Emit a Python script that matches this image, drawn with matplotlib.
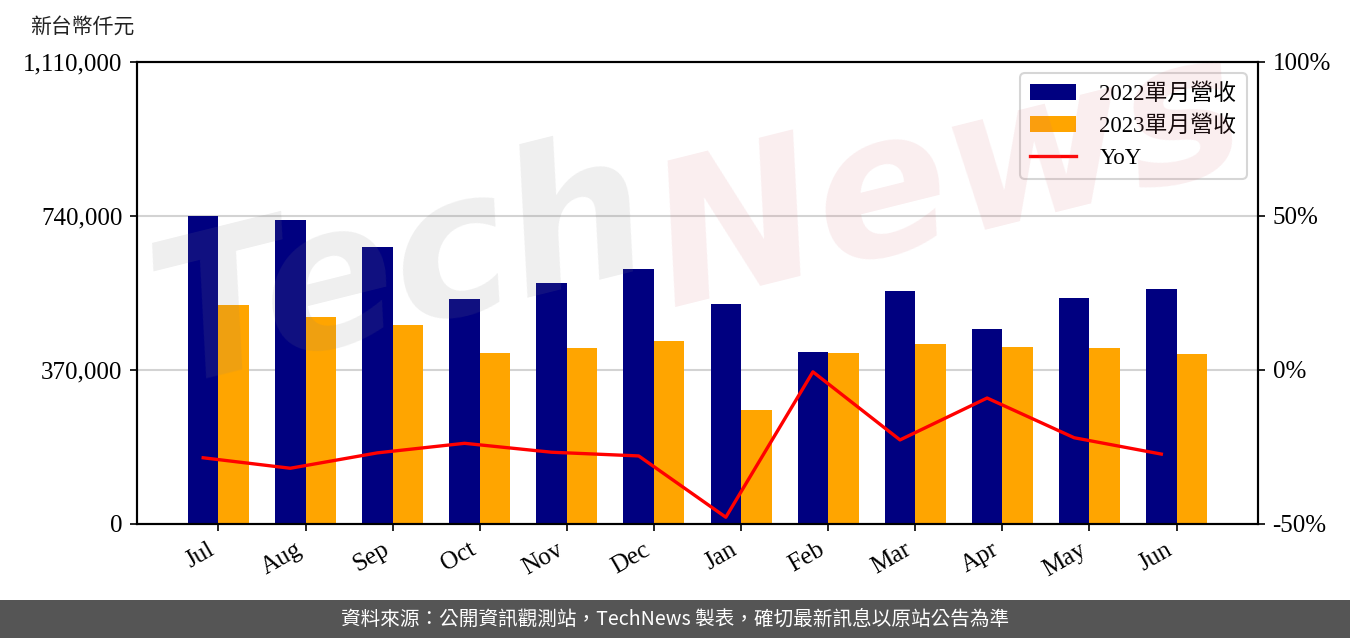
import matplotlib
matplotlib.use("Agg")
import matplotlib.pyplot as plt
import numpy as np
from matplotlib.ticker import FuncFormatter, FixedLocator

plt.rcParams["font.family"] = ["Liberation Serif", "Noto Sans CJK TC"]
plt.rcParams["axes.unicode_minus"] = False

# ---- data ----
months = ["Jul", "Aug", "Sep", "Oct", "Nov", "Dec",
          "Jan", "Feb", "Mar", "Apr", "May", "Jun"]
rev_2022 = [740000, 730400, 665500, 540600, 579000, 612700,
            528600, 413300, 559800, 468500, 543000, 564600]
rev_2023 = [526200, 497300, 478100, 410800, 422900, 439700,
            273900, 410800, 432500, 425300, 422900, 408400]
yoy = [-28.5, -31.9, -26.9, -23.8, -26.7, -27.9,
       -47.8, -0.6, -22.7, -9.1, -22.0, -27.3]

left_ticks = [0, 370000, 740000, 1110000]
right_ticks = [-50, 0, 50, 100]

fig = plt.figure(figsize=(9, 638 / 150), dpi=150)
ax = fig.add_axes([137 / 1350, 1 - 524 / 638, (1258 - 137) / 1350, (524 - 62) / 638])

x = np.arange(len(months))
w = 0.35
ax.bar(x, rev_2022, width=-w, align="edge", color="#000080", label="2022單月營收", zorder=2)
ax.bar(x, rev_2023, width=w, align="edge", color="#FFA500", label="2023單月營收", zorder=2)

ax.set_ylim(0, 1110000)
ax.yaxis.set_major_locator(FixedLocator(left_ticks))
ax.yaxis.set_major_formatter(FuncFormatter(lambda v, p: f"{int(v):,}"))
ax.grid(axis="y", color="#d3d3d3", linewidth=1.0, zorder=0)
ax.set_axisbelow(True)
ax.set_xticks(x)
ax.set_xticklabels(months, rotation=30, ha="right")
ax.tick_params(labelsize=12)

ax2 = ax.twinx()
ax2.plot(x - w / 2, yoy, color="red", linewidth=1.6, label="YoY", zorder=3)
ax2.set_ylim(-50, 100)
ax2.yaxis.set_major_locator(FixedLocator(right_ticks))
ax2.yaxis.set_major_formatter(FuncFormatter(lambda v, p: f"{int(v)}%"))
ax2.tick_params(labelsize=12)

for a in (ax, ax2):
    for s in a.spines.values():
        s.set_linewidth(1.0)

h1, l1 = ax.get_legend_handles_labels()
h2, l2 = ax2.get_legend_handles_labels()
ax2.legend(h1 + h2, l1 + l2, loc="upper right", fontsize=11,
           handlelength=2.0, borderpad=0.45, labelspacing=0.45, handletextpad=1.0)

fig.text(30 / 1350, 1 - 27 / 638, "新台幣仟元", fontsize=10, va="center", ha="left",
         family=["Noto Sans CJK TC"], color="#222222")

# watermark
fig.text(0.10, 0.40, "Tech", fontsize=95, rotation=14, color="#808080", alpha=0.13,
         family=["DejaVu Sans"], fontweight="bold", fontstyle="italic", zorder=10)
fig.text(0.47, 0.52, "News", fontsize=95, rotation=14, color="#d9707a", alpha=0.12,
         family=["DejaVu Sans"], fontweight="bold", fontstyle="italic", zorder=10)

# footer band
fax = fig.add_axes([0, 0, 1, 38 / 638])
fax.set_axis_off()
fax.add_patch(plt.Rectangle((0, 0), 1, 1, color="#555555", transform=fax.transAxes))
fax.text(0.5, 0.5, "資料來源：公開資訊觀測站，TechNews 製表，確切最新訊息以原站公告為準",
         ha="center", va="center", color="white", fontsize=9.4,
         family=["Noto Sans CJK TC"], transform=fax.transAxes)

fig.savefig("out.png", dpi=150)
